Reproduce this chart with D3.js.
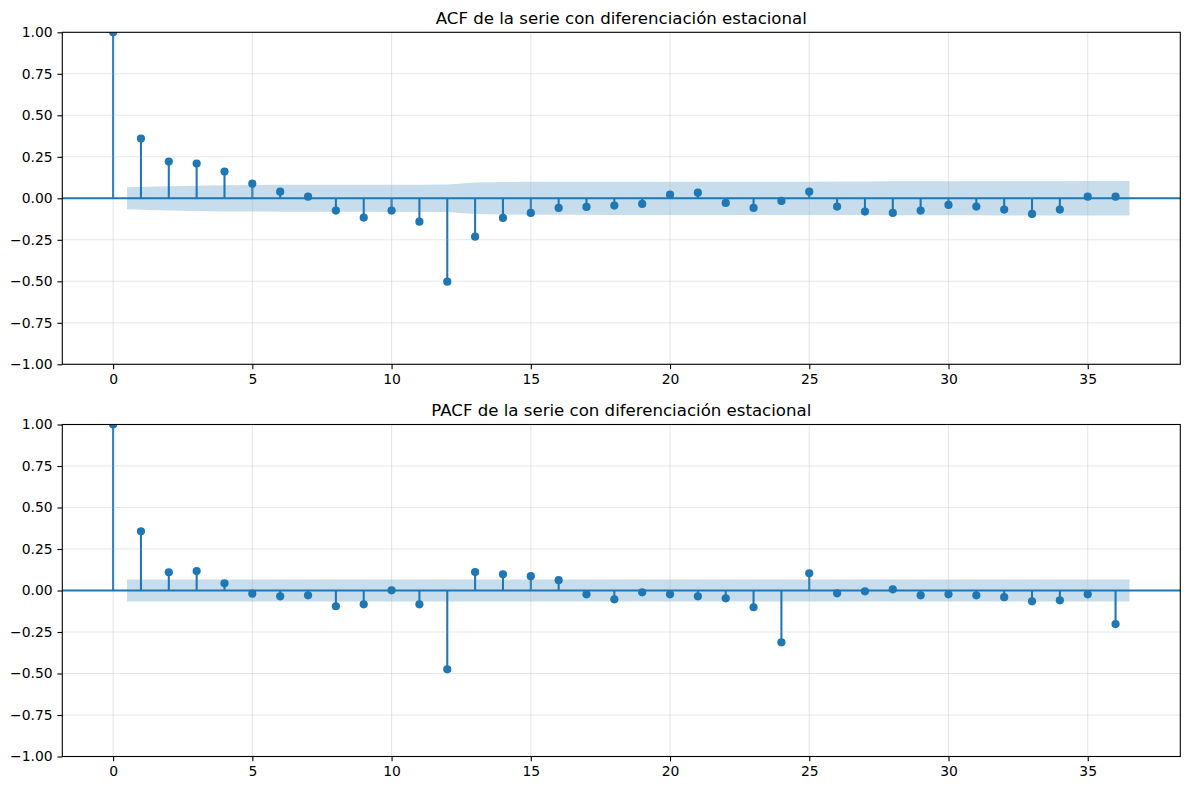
<!DOCTYPE html>
<html>
<head>
<meta charset="utf-8">
<script src="https://cdn.jsdelivr.net/npm/d3@7"></script>
<style>
  html, body { margin: 0; padding: 0; background: #fff; }
  svg { display: block; font-family: 'DejaVu Sans', sans-serif; }
  .tick text { font-size: 13.9px; fill: #000; }
</style>
</head>
<body>
<svg width="1189" height="790"></svg>
<script>
const lags = d3.range(0, 37);

const acfValues = [1.0, 0.36, 0.221, 0.209, 0.161, 0.088, 0.04, 0.01, -0.074, -0.116,
  -0.074, -0.141, -0.502, -0.231, -0.118, -0.088, -0.058, -0.052, -0.044, -0.034,
  0.022, 0.034, -0.028, -0.058, -0.016, 0.04, -0.05, -0.08, -0.088, -0.074,
  -0.04, -0.05, -0.068, -0.094, -0.068, 0.01, 0.01];

// half width of the confidence band, lags 1..36
const acfBand = [0.066, 0.073, 0.076, 0.079, 0.080, 0.081, 0.081, 0.081, 0.081, 0.082,
  0.082, 0.083, 0.095, 0.098, 0.099, 0.099, 0.099, 0.100, 0.100, 0.100,
  0.100, 0.100, 0.100, 0.100, 0.100, 0.101, 0.101, 0.102, 0.102, 0.102,
  0.102, 0.103, 0.103, 0.103, 0.104, 0.104];

const pacfValues = [1.0, 0.357, 0.11, 0.117, 0.043, -0.019, -0.035, -0.029, -0.095, -0.083,
  0.001, -0.083, -0.475, 0.111, 0.098, 0.086, 0.062, -0.023, -0.053, -0.011,
  -0.023, -0.035, -0.047, -0.101, -0.312, 0.104, -0.017, -0.005, 0.007, -0.029,
  -0.023, -0.029, -0.04, -0.065, -0.059, -0.023, -0.202];

const pacfBand = [0.066, 0.066, 0.066, 0.066, 0.066, 0.066, 0.066, 0.066, 0.066, 0.066,
  0.066, 0.066, 0.066, 0.066, 0.066, 0.066, 0.066, 0.066, 0.066, 0.066,
  0.066, 0.066, 0.066, 0.066, 0.066, 0.066, 0.066, 0.066, 0.066, 0.066,
  0.066, 0.066, 0.066, 0.066, 0.066, 0.066];

const xTicks = [0, 5, 10, 15, 20, 25, 30, 35];
const yTicks = [-1, -0.75, -0.5, -0.25, 0, 0.25, 0.5, 0.75, 1];

const titles = ['ACF de la serie con diferenciación estacional',
  'PACF de la serie con diferenciación estacional'];

const svg = d3.select('svg');
const blue = '#1f77b4';

const left = 62.3, right = 1180.3;
const panels = [
  { top: 32.3, bottom: 364.3, values: acfValues, band: acfBand, title: titles[0] },
  { top: 424.5, bottom: 756.5, values: pacfValues, band: pacfBand, title: titles[1] }
];

const x = d3.scaleLinear().domain([-1.825, 38.325]).range([left, right]);

panels.forEach((p, k) => {
  const y = d3.scaleLinear().domain([-1, 1]).range([p.bottom, p.top]);
  const g = svg.append('g');

  g.append('clipPath')
    .attr('id', 'clip' + k)
    .append('rect')
    .attr('x', left)
    .attr('y', p.top)
    .attr('width', right - left)
    .attr('height', p.bottom - p.top);

  const plot = g.append('g').attr('clip-path', `url(#clip${k})`);

  // stems
  plot.selectAll('line.stem')
    .data(lags)
    .enter()
    .append('line')
    .attr('class', 'stem')
    .attr('x1', d => x(d))
    .attr('x2', d => x(d))
    .attr('y1', y(0))
    .attr('y2', d => y(p.values[d]))
    .attr('stroke', blue)
    .attr('stroke-width', 2.08);

  // confidence band (first and last lag pushed out by half a lag, like statsmodels)
  const bandLags = lags.slice(1);
  const bx = (d, i) => i === 0 ? x(d - 0.5) : i === bandLags.length - 1 ? x(d + 0.5) : x(d);
  const area = d3.area()
    .x(bx)
    .y0((d, i) => y(-p.band[i]))
    .y1((d, i) => y(p.band[i]));
  plot.append('path')
    .datum(bandLags)
    .attr('d', area)
    .attr('fill', blue)
    .attr('fill-opacity', 0.25);

  // grid
  plot.selectAll('line.gx')
    .data(xTicks)
    .enter()
    .append('line')
    .attr('x1', d => x(d))
    .attr('x2', d => x(d))
    .attr('y1', p.top)
    .attr('y2', p.bottom)
    .attr('stroke', '#b0b0b0')
    .attr('stroke-opacity', 0.3)
    .attr('stroke-width', 1.1);
  plot.selectAll('line.gy')
    .data(yTicks)
    .enter()
    .append('line')
    .attr('x1', left)
    .attr('x2', right)
    .attr('y1', d => y(d))
    .attr('y2', d => y(d))
    .attr('stroke', '#b0b0b0')
    .attr('stroke-opacity', 0.3)
    .attr('stroke-width', 1.1);

  // zero line
  plot.append('line')
    .attr('x1', left)
    .attr('x2', right)
    .attr('y1', y(0))
    .attr('y2', y(0))
    .attr('stroke', blue)
    .attr('stroke-width', 2.08);

  // markers
  plot.selectAll('circle')
    .data(lags)
    .enter()
    .append('circle')
    .attr('cx', d => x(d))
    .attr('cy', d => y(p.values[d]))
    .attr('r', 4.1)
    .attr('fill', blue);

  // axes
  const xAxis = d3.axisBottom(x)
    .tickValues(xTicks)
    .tickSize(4.86)
    .tickPadding(4.86)
    .tickFormat(d3.format('d'));
  const yAxis = d3.axisLeft(y)
    .tickValues(yTicks)
    .tickSize(4.86)
    .tickPadding(4.86)
    .tickFormat(d3.format('.2f'));

  g.append('g')
    .attr('transform', `translate(0,${p.bottom})`)
    .call(xAxis)
    .call(a => a.select('.domain').remove());
  g.append('g')
    .attr('transform', `translate(${left},0)`)
    .call(yAxis)
    .call(a => a.select('.domain').remove());

  g.selectAll('.tick line').attr('stroke', '#000').attr('stroke-width', 1.1);
  g.selectAll('.tick text').attr('font-family', 'DejaVu Sans');

  // frame
  g.append('rect')
    .attr('x', left)
    .attr('y', p.top)
    .attr('width', right - left)
    .attr('height', p.bottom - p.top)
    .attr('fill', 'none')
    .attr('stroke', '#000')
    .attr('stroke-width', 1.1);

  g.append('text')
    .attr('x', (left + right) / 2)
    .attr('y', p.top - 8.3)
    .attr('text-anchor', 'middle')
    .attr('font-size', 16.6)
    .attr('fill', '#000')
    .text(p.title);
});
</script>
</body>
</html>
